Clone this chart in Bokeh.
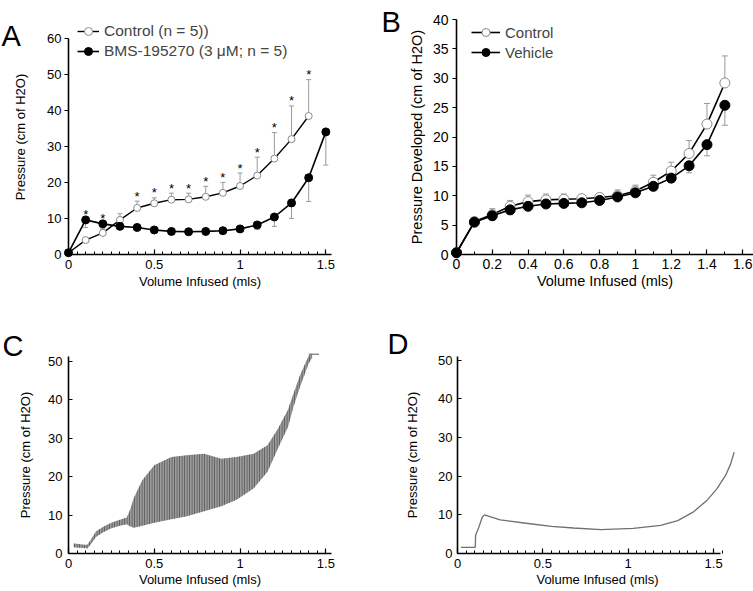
from bokeh.plotting import figure
from bokeh.layouts import column, row
from bokeh.models import (Range1d, FixedTicker, Whisker, TeeHead,
                          ColumnDataSource, Legend, LegendItem)
from bokeh.core.properties import value
from bokeh.embed import file_html
from bokeh.resources import INLINE

FONT = "Liberation Sans"

# ---------------- Panel A data ----------------
a_x_ctrl = [0.0, 0.1, 0.2, 0.3, 0.4, 0.5, 0.6, 0.7, 0.8, 0.9, 1.0, 1.1, 1.2, 1.3, 1.4]
a_ctrl = [0.5, 4.0, 6.0, 9.6, 12.9, 14.2, 15.2, 15.3, 16.0, 17.1, 19.0, 21.9, 26.6, 32.0, 38.4]
a_ctrl_upper = [0.5, 4.6, 7.0, 11.3, 14.8, 15.7, 17.0, 17.0, 18.9, 20.0, 22.6, 27.0, 33.8, 41.2, 48.5]
a_x_bms = [0.0, 0.1, 0.2, 0.3, 0.4, 0.5, 0.6, 0.7, 0.8, 0.9, 1.0, 1.1, 1.2, 1.3, 1.4, 1.5]
a_bms = [0.5, 9.6, 8.5, 7.8, 7.5, 6.8, 6.4, 6.3, 6.4, 6.6, 7.1, 8.2, 10.4, 14.3, 21.3, 34.0]
a_bms_lower = [0.5, 7.5, 7.3, 7.3, 7.1, 6.5, 6.2, 6.1, 6.2, 6.3, 6.6, 6.9, 7.8, 10.0, 14.7, 24.8]
a_star_x = [0.1, 0.2, 0.4, 0.5, 0.6, 0.7, 0.8, 0.9, 1.0, 1.1, 1.2, 1.3, 1.4]
a_xticks = [0, 0.5, 1, 1.5]
a_xtick_labels = ["0", "0.5", "1", "1.5"]
a_yticks = [0, 10, 20, 30, 40, 50, 60]
a_labels = ["Control (n = 5))", "BMS-195270 (3 \u03bcM; n = 5)"]

# ---------------- Panel B data ----------------
b_x = [0.0, 0.1, 0.2, 0.3, 0.4, 0.5, 0.6, 0.7, 0.8, 0.9, 1.0, 1.1, 1.2, 1.3, 1.4, 1.5]
b_ctrl = [0.3, 5.6, 6.8, 8.2, 9.0, 9.3, 9.4, 9.5, 9.7, 10.0, 10.8, 12.3, 14.2, 17.2, 22.2, 29.2]
b_ctrl_upper = [0.3, 5.9, 7.8, 9.2, 10.1, 10.3, 10.3, 10.2, 10.3, 11.0, 11.8, 13.5, 15.7, 19.4, 25.7, 33.8]
b_veh = [0.3, 5.5, 6.6, 7.6, 8.2, 8.6, 8.7, 8.8, 9.2, 9.8, 10.5, 11.6, 13.0, 15.1, 18.7, 25.4]
b_veh_lower = [0.3, 5.2, 5.8, 6.8, 7.6, 8.2, 8.3, 8.4, 8.8, 9.4, 10.0, 11.0, 12.3, 13.9, 16.8, 22.0]
b_xticks = [0, 0.2, 0.4, 0.6, 0.8, 1.0, 1.2, 1.4, 1.6]
b_xtick_labels = ["0", "0.2", "0.4", "0.6", "0.8", "1", "1.2", "1.4", "1.6"]
b_xminor = [0.1, 0.3, 0.5, 0.7, 0.9, 1.1, 1.3, 1.5]
b_yticks = [0, 5, 10, 15, 20, 25, 30, 35, 40]
b_labels = ["Control", "Vehicle"]

# ---------------- Panel C data (trace envelope) ----------------
c_x = [0.03, 0.06, 0.09, 0.11, 0.13, 0.16, 0.20, 0.25, 0.30, 0.34, 0.36, 0.38, 0.43,
       0.50, 0.60, 0.69, 0.79, 0.89, 0.98, 1.08, 1.16, 1.22, 1.28, 1.31, 1.35, 1.40, 1.42]
c_upper = [2.6, 2.5, 2.3, 2.3, 3.6, 5.7, 6.9, 8.0, 8.8, 9.4, 11.5, 14.4, 19.1,
           23.0, 25.1, 25.6, 26.0, 24.7, 25.1, 26.0, 28.2, 32.4, 37.5, 41.5, 46.5, 51.5, 52.0]
c_lower = [1.6, 1.5, 1.4, 1.3, 2.4, 4.3, 5.5, 6.6, 7.2, 7.6, 7.0, 6.7, 7.2,
           8.0, 8.9, 9.7, 11.0, 12.3, 14.0, 17.0, 21.3, 27.3, 33.0, 38.0, 43.5, 49.5, 51.0]
c_cap_x = [1.40, 1.46]
c_cap_y = [51.9, 51.9]

# ---------------- Panel D data (trace) ----------------
d_x = [0.02, 0.104, 0.106, 0.125, 0.145, 0.158, 0.25, 0.39, 0.55, 0.68, 0.84, 1.03,
       1.19, 1.29, 1.38, 1.46, 1.52, 1.57, 1.60, 1.62]
d_y = [1.6, 1.6, 4.7, 6.8, 9.4, 10.0, 8.7, 7.9, 7.0, 6.6, 6.2, 6.5,
       7.3, 8.5, 10.7, 13.7, 16.8, 20.2, 23.2, 26.2]

cd_xticks = [0, 0.5, 1, 1.5]
cd_xtick_labels = ["0", "0.5", "1", "1.5"]
cd_xminor = [i * 0.05 for i in range(32)]
cd_yticks = [0, 10, 20, 30, 40, 50]

X_LABEL = "Volume Infused (mls)"
Y_LABEL = "Pressure (cm of H2O)"
Y_LABEL_B = "Pressure Developed (cm of H2O)"
PANEL_LETTERS = ["A", "B", "C", "D"]

# ---------------- layout geometry (page px; page has no margin) ----------------
# frame of A is extended above y=60 so that the legend is not clipped; axis bounded at 60
GEOM = {
    "A": dict(fx=0, fy=0, w=380, h=300, bl=68, br=49, bt=4, bb=44, x_end=1.533, y_end=65.17),
    "B": dict(fx=380, fy=0, w=373, h=300, bl=76, br=0, bt=19, bb=46, x_end=1.66, y_end=40),
    "C": dict(fx=0, fy=300, w=380, h=291, bl=68, br=49, bt=53, bb=38, x_end=1.533, y_end=51.3),
    "D": dict(fx=380, fy=300, w=373, h=291, bl=77, br=16, bt=56, bb=38, x_end=1.64, y_end=51),
}


def page_to_data(g, px, py):
    fw = g["w"] - g["bl"] - g["br"]
    fh = g["h"] - g["bt"] - g["bb"]
    x = (px - (g["fx"] + g["bl"])) / fw * g["x_end"]
    y = ((g["fy"] + g["bt"] + fh) - py) / fh * g["y_end"]
    return x, y


def make_fig(key):
    g = GEOM[key]
    p = figure(width=g["w"], height=g["h"],
               x_range=Range1d(0, g["x_end"]), y_range=Range1d(0, g["y_end"]),
               output_backend="svg", toolbar_location=None,
               min_border_left=g["bl"], min_border_right=g["br"],
               min_border_top=g["bt"], min_border_bottom=g["bb"])
    p.outline_line_color = None
    p.xgrid.visible = False
    p.ygrid.visible = False
    p.background_fill_color = "white"
    p.border_fill_color = "white"
    return p


def style_x(p, ticks, labels, minor, fs, lfs, std, lstd):
    ax = p.xaxis[0]
    ax.ticker = FixedTicker(ticks=ticks, minor_ticks=minor)
    ax.major_label_overrides = {t: l for t, l in zip(ticks, labels)}
    ax.major_tick_in = 5
    ax.major_tick_out = 0
    ax.minor_tick_in = 3
    ax.minor_tick_out = 0
    ax.axis_line_width = 1.6
    ax.major_tick_line_width = 1.2
    ax.minor_tick_line_width = 1
    ax.major_label_text_font = FONT
    ax.major_label_text_font_size = fs
    ax.major_label_text_color = "black"
    ax.major_label_standoff = std
    ax.axis_label = X_LABEL
    ax.axis_label_text_font = FONT
    ax.axis_label_text_font_size = lfs
    ax.axis_label_text_font_style = "normal"
    ax.axis_label_text_color = "black"
    ax.axis_label_standoff = lstd
    return ax


def style_y(p, ticks, label, fs, lfs, tick_in, tick_out, std, lstd):
    ay = p.yaxis[0]
    ay.ticker = FixedTicker(ticks=ticks)
    ay.major_tick_in = tick_in
    ay.major_tick_out = tick_out
    ay.minor_tick_line_color = None
    ay.axis_line_width = 1.6
    ay.major_tick_line_width = 1.2
    ay.major_label_text_font = FONT
    ay.major_label_text_font_size = fs
    ay.major_label_text_color = "black"
    ay.major_label_standoff = std
    ay.axis_label = label
    ay.axis_label_text_font = FONT
    ay.axis_label_text_font_size = lfs
    ay.axis_label_text_font_style = "normal"
    ay.axis_label_text_color = "black"
    ay.axis_label_standoff = lstd
    return ay


def add_letter(p, key, text, px, py):
    x, y = page_to_data(GEOM[key], px, py)
    p.text(x=[x], y=[y], text=[text], text_font=value(FONT), text_font_size="29px",
           text_align="left", text_baseline="alphabetic", text_color="black",
           level="overlay")


# ================= Panel A =================
pa = make_fig("A")
style_x(pa, a_xticks, a_xtick_labels, cd_xminor, "13px", "13px", 5, 2)
aya = style_y(pa, a_yticks, Y_LABEL, "13px", "13px", 0, 4, 3, 16)
aya.bounds = (0, 60)

src_ac = ColumnDataSource(dict(x=a_x_ctrl, lower=a_ctrl, upper=a_ctrl_upper))
pa.add_layout(Whisker(source=src_ac, base="x", lower="lower", upper="upper",
                      line_color="#9a9a9a", line_width=1, lower_head=None,
                      upper_head=TeeHead(size=5, line_color="#9a9a9a", line_width=1)))
src_ab = ColumnDataSource(dict(x=a_x_bms, lower=a_bms_lower, upper=a_bms))
pa.add_layout(Whisker(source=src_ab, base="x", lower="lower", upper="upper",
                      line_color="#9a9a9a", line_width=1, upper_head=None,
                      lower_head=TeeHead(size=5, line_color="#9a9a9a", line_width=1)))

la1 = pa.line(a_x_ctrl, a_ctrl, line_color="black", line_width=1.4, level="overlay")
sa1 = pa.scatter(a_x_ctrl, a_ctrl, marker="circle", size=7, fill_color="white",
                 line_color="#8a8a8a", line_width=1, level="overlay")
la2 = pa.line(a_x_bms, a_bms, line_color="black", line_width=1.6, level="overlay")
sa2 = pa.scatter(a_x_bms, a_bms, marker="circle", size=8, fill_color="black",
                 line_color="black", level="overlay")

star_base = []
for sx in a_star_x:
    ci = min(range(len(a_x_ctrl)), key=lambda i: abs(a_x_ctrl[i] - sx))
    bi = min(range(len(a_x_bms)), key=lambda i: abs(a_x_bms[i] - sx))
    star_base.append(max(a_ctrl_upper[ci], a_bms[bi]))
pa.text(x=a_star_x, y=star_base, text=["*"] * len(a_star_x), text_font=value(FONT),
        text_font_size="13px", text_align="center", text_baseline="alphabetic",
        y_offset=-5, text_color="black", level="overlay")

leg_a = Legend(items=[LegendItem(label=a_labels[0], renderers=[la1, sa1]),
                      LegendItem(label=a_labels[1], renderers=[la2, sa2])],
               location=(9, 193), padding=5, margin=0, spacing=0,
               glyph_width=22, glyph_height=20, label_height=20, label_standoff=5,
               label_text_font=FONT, label_text_font_size="15.5px",
               border_line_color=None, background_fill_alpha=0)
pa.add_layout(leg_a)
add_letter(pa, "A", PANEL_LETTERS[0], 1, 22)

# ================= Panel B =================
pb = make_fig("B")
style_x(pb, b_xticks, b_xtick_labels, b_xminor, "14px", "14.5px", 4, 1)
style_y(pb, b_yticks, Y_LABEL_B, "14px", "14.5px", 0, 4, 4, 5)

src_bc = ColumnDataSource(dict(x=b_x, lower=b_ctrl, upper=b_ctrl_upper))
pb.add_layout(Whisker(source=src_bc, base="x", lower="lower", upper="upper",
                      line_color="#9a9a9a", line_width=1, lower_head=None,
                      upper_head=TeeHead(size=6, line_color="#9a9a9a", line_width=1)))
src_bv = ColumnDataSource(dict(x=b_x, lower=b_veh_lower, upper=b_veh))
pb.add_layout(Whisker(source=src_bv, base="x", lower="lower", upper="upper",
                      line_color="#9a9a9a", line_width=1, upper_head=None,
                      lower_head=TeeHead(size=6, line_color="#9a9a9a", line_width=1)))

lb1 = pb.line(b_x, b_ctrl, line_color="black", line_width=1.6, level="overlay")
sb1 = pb.scatter(b_x, b_ctrl, marker="circle", size=10, fill_color="white",
                 line_color="#8a8a8a", line_width=1, level="overlay")
lb2 = pb.line(b_x, b_veh, line_color="black", line_width=1.6, level="overlay")
sb2 = pb.scatter(b_x, b_veh, marker="circle", size=10, fill_color="black",
                 line_color="black", level="overlay")

leg_b = Legend(items=[LegendItem(label=b_labels[0], renderers=[lb1, sb1]),
                      LegendItem(label=b_labels[1], renderers=[lb2, sb2])],
               location=(15, 192), padding=0, margin=0, spacing=0,
               glyph_width=29, glyph_height=20, label_height=20, label_standoff=5,
               label_text_font=FONT, label_text_font_size="15px",
               border_line_color=None, background_fill_alpha=0)
pb.add_layout(leg_b)
add_letter(pb, "B", PANEL_LETTERS[1], 381, 21)

# ================= Panel C =================
pc = make_fig("C")
style_x(pc, cd_xticks, cd_xtick_labels, cd_xminor, "13px", "13px", 5, 1)
style_y(pc, cd_yticks, Y_LABEL, "13px", "13px", 4, 0, 6, 12)
pc.varea(x=c_x, y1=c_lower, y2=c_upper, fill_color="#9a9a9a",
         hatch_pattern="vertical_line", hatch_color="#4a4a4a", hatch_scale=2.5,
         hatch_weight=1, hatch_alpha=0.85, level="overlay")
pc.line(c_cap_x, c_cap_y, line_color="#555555", line_width=1, level="overlay")
add_letter(pc, "C", PANEL_LETTERS[2], 2, 342)

# ================= Panel D =================
pd_ = make_fig("D")
axd = style_x(pd_, cd_xticks, cd_xtick_labels, cd_xminor, "13px", "13px", 5, 1)
axd.bounds = (0, 1.54)
style_y(pd_, cd_yticks, Y_LABEL, "13px", "13px", 4, 0, 5, 15)
pd_.line(d_x, d_y, line_color="#707070", line_width=1.3, level="overlay")
add_letter(pd_, "D", PANEL_LETTERS[3], 387, 343)

layout = column(row(pa, pb), row(pc, pd_))

open("out.html", "w").write(file_html(layout, INLINE))
